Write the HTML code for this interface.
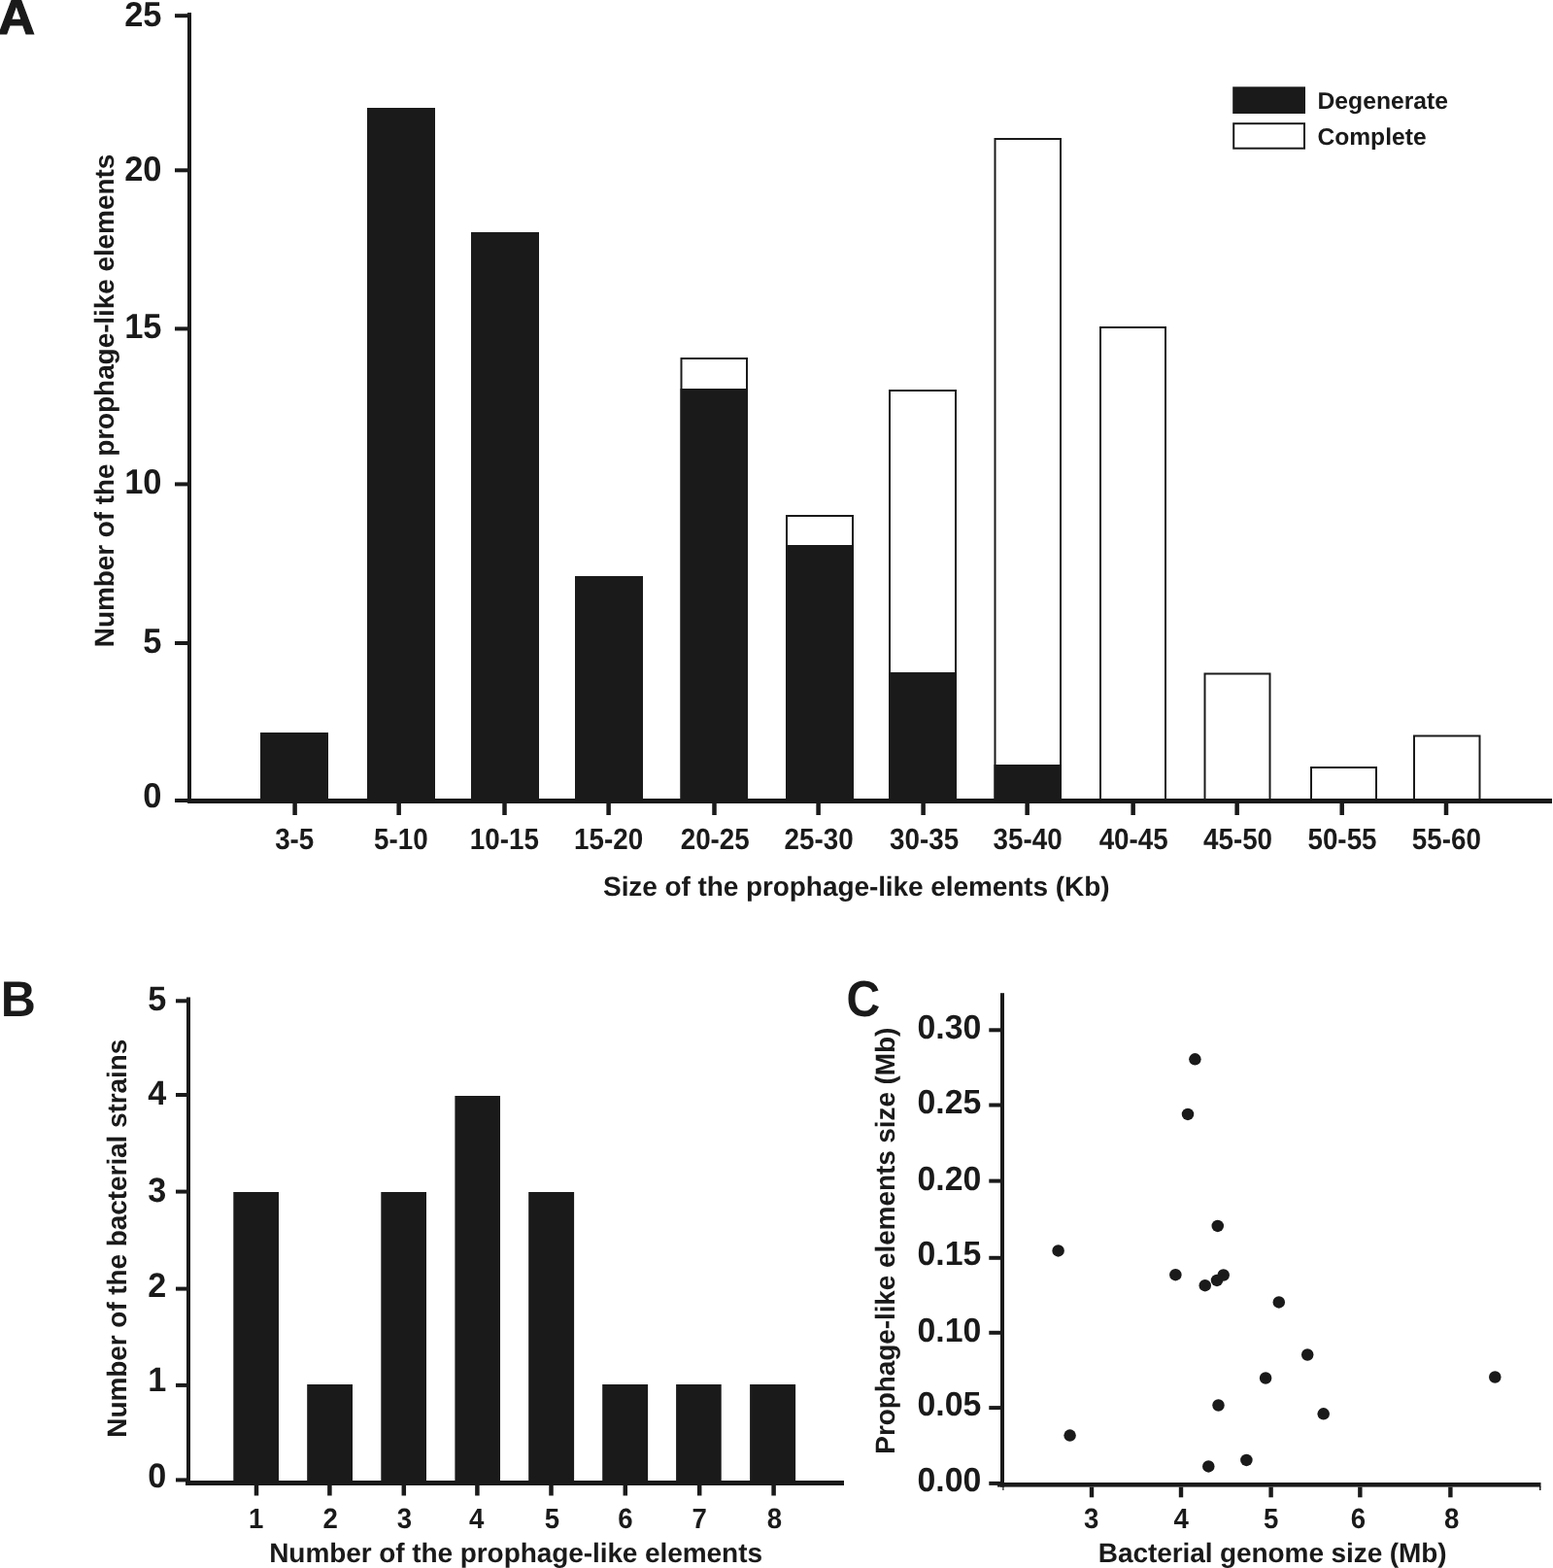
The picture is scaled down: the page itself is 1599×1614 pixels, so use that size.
<!DOCTYPE html>
<html><head><meta charset="utf-8"><title>Prophage-like elements figure</title>
<style>
html,body{margin:0;padding:0;background:#fff;overflow:hidden;}
svg{display:block;}
text{font-family:"Liberation Sans", Arial, Helvetica, sans-serif;font-weight:bold;fill:#1a1a1a;text-rendering:geometricPrecision;}
</style></head>
<body>
<svg width="1599" height="1614" viewBox="0 0 1599 1614">
<rect x="0" y="0" width="1599" height="1614" fill="#fff"/>
<text transform="translate(-2.20,35.00) scale(1.0600,1.0300)" font-size="50" stroke="#1a1a1a" stroke-width="1.2">A</text>
<rect x="193.00" y="13.00" width="4.00" height="814.00" fill="#1a1a1a"/>
<rect x="180.00" y="14.20" width="13.00" height="4.00" fill="#1a1a1a"/>
<rect x="180.00" y="173.30" width="13.00" height="4.00" fill="#1a1a1a"/>
<rect x="180.00" y="336.40" width="13.00" height="4.00" fill="#1a1a1a"/>
<rect x="180.00" y="496.40" width="13.00" height="4.00" fill="#1a1a1a"/>
<rect x="180.00" y="660.00" width="13.00" height="4.00" fill="#1a1a1a"/>
<rect x="180.00" y="822.00" width="13.00" height="4.00" fill="#1a1a1a"/>
<text transform="translate(166.53,27.40) scale(1.0000,1.0400)" font-size="34.5" text-anchor="end">25</text>
<text transform="translate(166.53,186.20) scale(1.0000,1.0400)" font-size="34.5" text-anchor="end">20</text>
<text transform="translate(166.53,348.10) scale(1.0000,1.0400)" font-size="34.5" text-anchor="end">15</text>
<text transform="translate(166.53,508.10) scale(1.0000,1.0400)" font-size="34.5" text-anchor="end">10</text>
<text transform="translate(166.53,672.00) scale(1.0000,1.0400)" font-size="34.5" text-anchor="end">5</text>
<text transform="translate(166.53,831.40) scale(1.0000,1.0400)" font-size="34.5" text-anchor="end">0</text>
<rect x="193.00" y="822.00" width="1405.00" height="5.00" fill="#1a1a1a"/>
<rect x="301.35" y="827.00" width="4.50" height="12.00" fill="#1a1a1a"/>
<text transform="translate(303.25,874.30) scale(1.0000,1.1000)" font-size="27.8" text-anchor="middle">3-5</text>
<rect x="408.40" y="827.00" width="4.50" height="12.00" fill="#1a1a1a"/>
<text transform="translate(412.88,874.30) scale(1.0000,1.1000)" font-size="27.8" text-anchor="middle">5-10</text>
<rect x="517.25" y="827.00" width="4.50" height="12.00" fill="#1a1a1a"/>
<text transform="translate(519.31,874.30) scale(1.0000,1.1000)" font-size="27.8" text-anchor="middle">10-15</text>
<rect x="624.35" y="827.00" width="4.50" height="12.00" fill="#1a1a1a"/>
<text transform="translate(626.66,874.30) scale(1.0000,1.1000)" font-size="27.8" text-anchor="middle">15-20</text>
<rect x="733.25" y="827.00" width="4.50" height="12.00" fill="#1a1a1a"/>
<text transform="translate(736.23,874.30) scale(1.0000,1.1000)" font-size="27.8" text-anchor="middle">20-25</text>
<rect x="840.35" y="827.00" width="4.50" height="12.00" fill="#1a1a1a"/>
<text transform="translate(843.05,874.30) scale(1.0000,1.1000)" font-size="27.8" text-anchor="middle">25-30</text>
<rect x="948.35" y="827.00" width="4.50" height="12.00" fill="#1a1a1a"/>
<text transform="translate(951.60,874.30) scale(1.0000,1.1000)" font-size="27.8" text-anchor="middle">30-35</text>
<rect x="1055.40" y="827.00" width="4.50" height="12.00" fill="#1a1a1a"/>
<text transform="translate(1058.10,874.30) scale(1.0000,1.1000)" font-size="27.8" text-anchor="middle">35-40</text>
<rect x="1164.40" y="827.00" width="4.50" height="12.00" fill="#1a1a1a"/>
<text transform="translate(1167.20,874.30) scale(1.0000,1.1000)" font-size="27.8" text-anchor="middle">40-45</text>
<rect x="1271.40" y="827.00" width="4.50" height="12.00" fill="#1a1a1a"/>
<text transform="translate(1274.52,874.30) scale(1.0000,1.1000)" font-size="27.8" text-anchor="middle">45-50</text>
<rect x="1379.45" y="827.00" width="4.50" height="12.00" fill="#1a1a1a"/>
<text transform="translate(1382.00,874.30) scale(1.0000,1.1000)" font-size="27.8" text-anchor="middle">50-55</text>
<rect x="1486.75" y="827.00" width="4.50" height="12.00" fill="#1a1a1a"/>
<text transform="translate(1489.30,874.30) scale(1.0000,1.1000)" font-size="27.8" text-anchor="middle">55-60</text>
<rect x="268.00" y="754.00" width="70.00" height="69.00" fill="#1a1a1a"/>
<rect x="378.00" y="111.00" width="70.00" height="712.00" fill="#1a1a1a"/>
<rect x="485.00" y="239.00" width="70.00" height="584.00" fill="#1a1a1a"/>
<rect x="592.00" y="593.00" width="70.00" height="230.00" fill="#1a1a1a"/>
<rect x="701.50" y="369.00" width="67.50" height="454.00" fill="#fff" stroke="#1a1a1a" stroke-width="2"/>
<rect x="700.50" y="400.00" width="69.50" height="423.00" fill="#1a1a1a"/>
<rect x="810.00" y="531.00" width="68.00" height="292.00" fill="#fff" stroke="#1a1a1a" stroke-width="2"/>
<rect x="809.00" y="561.00" width="70.00" height="262.00" fill="#1a1a1a"/>
<rect x="916.00" y="402.00" width="68.00" height="421.00" fill="#fff" stroke="#1a1a1a" stroke-width="2"/>
<rect x="915.00" y="692.00" width="70.00" height="131.00" fill="#1a1a1a"/>
<rect x="1024.50" y="143.00" width="67.50" height="680.00" fill="#fff" stroke="#1a1a1a" stroke-width="2"/>
<rect x="1023.50" y="787.00" width="69.50" height="36.00" fill="#1a1a1a"/>
<rect x="1133.00" y="337.00" width="67.00" height="486.00" fill="#fff" stroke="#1a1a1a" stroke-width="2"/>
<rect x="1240.50" y="693.50" width="67.00" height="129.50" fill="#fff" stroke="#1a1a1a" stroke-width="2"/>
<rect x="1350.00" y="790.00" width="67.00" height="33.00" fill="#fff" stroke="#1a1a1a" stroke-width="2"/>
<rect x="1456.00" y="757.50" width="67.50" height="65.50" fill="#fff" stroke="#1a1a1a" stroke-width="2"/>
<text transform="translate(621.05,921.50)" font-size="28" textLength="521.50">Size of the prophage-like elements (Kb)</text>
<text transform="translate(117.10,666.14) rotate(-90)" font-size="28" textLength="507.36">Number of the prophage-like elements</text>
<rect x="1269.20" y="89.30" width="74.80" height="27.70" fill="#1a1a1a"/>
<rect x="1270.20" y="127.20" width="72.80" height="25.50" fill="#fff" stroke="#1a1a1a" stroke-width="2"/>
<text transform="translate(1356.46,111.70) scale(1.0000,1.0400)" font-size="23.5" textLength="134.63" lengthAdjust="spacingAndGlyphs">Degenerate</text>
<text transform="translate(1356.40,149.30) scale(1.0000,1.0400)" font-size="23.5" textLength="112.19" lengthAdjust="spacingAndGlyphs">Complete</text>
<text transform="translate(0.75,1045.50) scale(1.0000,1.0300)" font-size="50">B</text>
<rect x="192.00" y="1026.50" width="4.00" height="502.50" fill="#1a1a1a"/>
<rect x="181.00" y="1028.30" width="11.00" height="4.00" fill="#1a1a1a"/>
<text transform="translate(171.30,1040.00) scale(1.0000,1.0330)" font-size="34.2" text-anchor="end">5</text>
<rect x="181.00" y="1125.00" width="11.00" height="4.00" fill="#1a1a1a"/>
<text transform="translate(171.30,1137.30) scale(1.0000,1.0330)" font-size="34.2" text-anchor="end">4</text>
<rect x="181.00" y="1224.60" width="11.00" height="4.00" fill="#1a1a1a"/>
<text transform="translate(171.30,1237.00) scale(1.0000,1.0330)" font-size="34.2" text-anchor="end">3</text>
<rect x="181.00" y="1324.60" width="11.00" height="4.00" fill="#1a1a1a"/>
<text transform="translate(171.30,1334.90) scale(1.0000,1.0330)" font-size="34.2" text-anchor="end">2</text>
<rect x="181.00" y="1423.90" width="11.00" height="4.00" fill="#1a1a1a"/>
<text transform="translate(171.30,1432.10) scale(1.0000,1.0330)" font-size="34.2" text-anchor="end">1</text>
<rect x="181.00" y="1521.40" width="11.00" height="4.00" fill="#1a1a1a"/>
<text transform="translate(171.30,1531.30) scale(1.0000,1.0330)" font-size="34.2" text-anchor="end">0</text>
<rect x="191.00" y="1524.00" width="678.00" height="5.00" fill="#1a1a1a"/>
<rect x="261.75" y="1529.00" width="4.50" height="10.50" fill="#1a1a1a"/>
<text transform="translate(263.70,1572.60) scale(1.0000,1.0600)" font-size="27.6" text-anchor="middle">1</text>
<rect x="337.15" y="1529.00" width="4.50" height="10.50" fill="#1a1a1a"/>
<text transform="translate(340.07,1572.60) scale(1.0000,1.0600)" font-size="27.6" text-anchor="middle">2</text>
<rect x="413.55" y="1529.00" width="4.50" height="10.50" fill="#1a1a1a"/>
<text transform="translate(416.53,1572.60) scale(1.0000,1.0600)" font-size="27.6" text-anchor="middle">3</text>
<rect x="489.15" y="1529.00" width="4.50" height="10.50" fill="#1a1a1a"/>
<text transform="translate(490.60,1572.60) scale(1.0000,1.0600)" font-size="27.6" text-anchor="middle">4</text>
<rect x="565.25" y="1529.00" width="4.50" height="10.50" fill="#1a1a1a"/>
<text transform="translate(568.30,1572.60) scale(1.0000,1.0600)" font-size="27.6" text-anchor="middle">5</text>
<rect x="641.55" y="1529.00" width="4.50" height="10.50" fill="#1a1a1a"/>
<text transform="translate(644.00,1572.60) scale(1.0000,1.0600)" font-size="27.6" text-anchor="middle">6</text>
<rect x="717.95" y="1529.00" width="4.50" height="10.50" fill="#1a1a1a"/>
<text transform="translate(720.05,1572.60) scale(1.0000,1.0600)" font-size="27.6" text-anchor="middle">7</text>
<rect x="794.35" y="1529.00" width="4.50" height="10.50" fill="#1a1a1a"/>
<text transform="translate(797.30,1572.60) scale(1.0000,1.0600)" font-size="27.6" text-anchor="middle">8</text>
<rect x="240.30" y="1227.00" width="46.70" height="298.00" fill="#1a1a1a"/>
<rect x="316.20" y="1425.00" width="46.80" height="100.00" fill="#1a1a1a"/>
<rect x="392.30" y="1227.00" width="46.70" height="298.00" fill="#1a1a1a"/>
<rect x="468.40" y="1128.00" width="46.60" height="397.00" fill="#1a1a1a"/>
<rect x="544.20" y="1227.00" width="46.90" height="298.00" fill="#1a1a1a"/>
<rect x="620.20" y="1425.00" width="46.90" height="100.00" fill="#1a1a1a"/>
<rect x="696.10" y="1425.00" width="46.60" height="100.00" fill="#1a1a1a"/>
<rect x="772.10" y="1425.00" width="47.00" height="100.00" fill="#1a1a1a"/>
<text transform="translate(277.21,1607.50)" font-size="28" textLength="507.76">Number of the prophage-like elements</text>
<text transform="translate(129.90,1479.70) rotate(-90)" font-size="28" textLength="410.05">Number of the bacterial strains</text>
<text transform="translate(871.62,1046.30) scale(0.9630,1.0440)" font-size="50">C</text>
<rect x="1030.00" y="1022.20" width="4.00" height="508.40" fill="#1a1a1a"/>
<rect x="1018.30" y="1058.30" width="11.70" height="4.00" fill="#1a1a1a"/>
<text transform="translate(1010.30,1068.50) scale(1.0000,1.0300)" font-size="33.85" text-anchor="end">0.30</text>
<rect x="1018.30" y="1135.50" width="11.70" height="4.00" fill="#1a1a1a"/>
<text transform="translate(1010.30,1145.70) scale(1.0000,1.0300)" font-size="33.85" text-anchor="end">0.25</text>
<rect x="1018.30" y="1213.60" width="11.70" height="4.00" fill="#1a1a1a"/>
<text transform="translate(1010.30,1224.50) scale(1.0000,1.0300)" font-size="33.85" text-anchor="end">0.20</text>
<rect x="1018.30" y="1292.80" width="11.70" height="4.00" fill="#1a1a1a"/>
<text transform="translate(1010.30,1301.60) scale(1.0000,1.0300)" font-size="33.85" text-anchor="end">0.15</text>
<rect x="1018.30" y="1369.80" width="11.70" height="4.00" fill="#1a1a1a"/>
<text transform="translate(1010.30,1380.60) scale(1.0000,1.0300)" font-size="33.85" text-anchor="end">0.10</text>
<rect x="1018.30" y="1447.10" width="11.70" height="4.00" fill="#1a1a1a"/>
<text transform="translate(1010.30,1456.80) scale(1.0000,1.0300)" font-size="33.85" text-anchor="end">0.05</text>
<rect x="1018.30" y="1524.90" width="11.70" height="4.00" fill="#1a1a1a"/>
<text transform="translate(1010.30,1534.50) scale(1.0000,1.0300)" font-size="33.85" text-anchor="end">0.00</text>
<rect x="1027.00" y="1526.00" width="559.50" height="4.60" fill="#1a1a1a"/>
<rect x="1032.30" y="1530.00" width="1.20" height="4.00" fill="#1a1a1a"/>
<rect x="1585.00" y="1530.00" width="1.50" height="4.00" fill="#1a1a1a"/>
<rect x="1121.80" y="1530.60" width="4.40" height="10.70" fill="#1a1a1a"/>
<text transform="translate(1123.78,1572.60) scale(1.0000,1.0600)" font-size="27.6" text-anchor="middle">3</text>
<rect x="1213.80" y="1530.60" width="4.40" height="10.70" fill="#1a1a1a"/>
<text transform="translate(1216.22,1572.60) scale(1.0000,1.0600)" font-size="27.6" text-anchor="middle">4</text>
<rect x="1306.40" y="1530.60" width="4.40" height="10.70" fill="#1a1a1a"/>
<text transform="translate(1308.70,1572.60) scale(1.0000,1.0600)" font-size="27.6" text-anchor="middle">5</text>
<rect x="1398.15" y="1530.60" width="4.40" height="10.70" fill="#1a1a1a"/>
<text transform="translate(1398.30,1572.60) scale(1.0000,1.0600)" font-size="27.6" text-anchor="middle">6</text>
<rect x="1491.20" y="1530.60" width="4.40" height="10.70" fill="#1a1a1a"/>
<text transform="translate(1494.65,1572.60) scale(1.0000,1.0600)" font-size="27.6" text-anchor="middle">8</text>
<text transform="translate(1130.84,1607.50)" font-size="28" textLength="358.80">Bacterial genome size (Mb)</text>
<text transform="translate(920.60,1496.70) rotate(-90)" font-size="28" textLength="439.06">Prophage-like elements size (Mb)</text>
<circle cx="1230.40" cy="1090.30" r="6.25" fill="#1a1a1a"/>
<circle cx="1223.00" cy="1146.90" r="6.25" fill="#1a1a1a"/>
<circle cx="1253.75" cy="1261.90" r="6.25" fill="#1a1a1a"/>
<circle cx="1089.60" cy="1287.40" r="6.25" fill="#1a1a1a"/>
<circle cx="1210.35" cy="1312.20" r="6.25" fill="#1a1a1a"/>
<circle cx="1240.75" cy="1323.20" r="6.25" fill="#1a1a1a"/>
<circle cx="1253.00" cy="1317.90" r="6.25" fill="#1a1a1a"/>
<circle cx="1259.70" cy="1312.50" r="6.25" fill="#1a1a1a"/>
<circle cx="1316.80" cy="1340.40" r="6.25" fill="#1a1a1a"/>
<circle cx="1346.20" cy="1394.50" r="6.25" fill="#1a1a1a"/>
<circle cx="1303.10" cy="1418.50" r="6.25" fill="#1a1a1a"/>
<circle cx="1254.50" cy="1446.50" r="6.25" fill="#1a1a1a"/>
<circle cx="1362.70" cy="1455.30" r="6.25" fill="#1a1a1a"/>
<circle cx="1101.60" cy="1477.60" r="6.25" fill="#1a1a1a"/>
<circle cx="1244.30" cy="1509.40" r="6.25" fill="#1a1a1a"/>
<circle cx="1283.40" cy="1502.90" r="6.25" fill="#1a1a1a"/>
<circle cx="1539.30" cy="1417.50" r="6.25" fill="#1a1a1a"/>
</svg>
</body></html>
